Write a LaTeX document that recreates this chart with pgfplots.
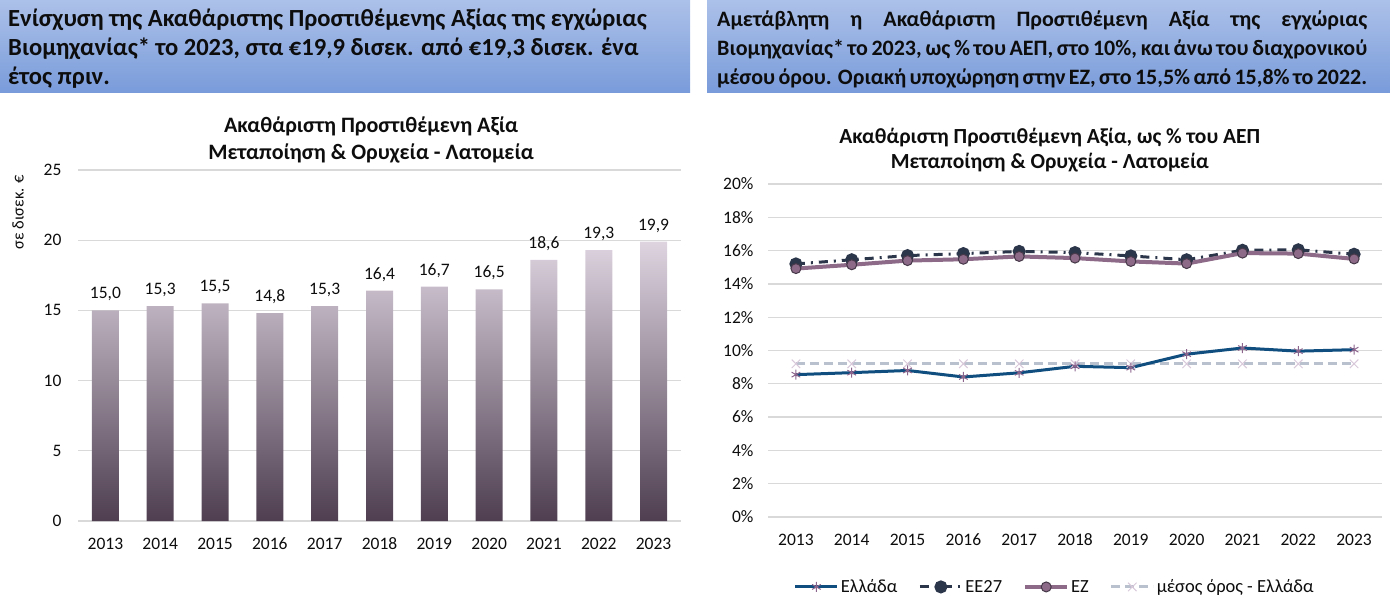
\documentclass[border=0pt]{standalone}
\usepackage{fontspec}
\setmainfont{Carlito}
\usepackage{pgfplots}
\pgfplotsset{compat=1.18}
\pgfplotsset{/pgf/number format/assume math mode=true}

\definecolor{hdrtop}{RGB}{172,193,233}
\definecolor{hdrbot}{RGB}{121,155,218}
\definecolor{gridc}{RGB}{217,217,217}
\definecolor{bartop}{RGB}{222,212,224}
\definecolor{barmid}{RGB}{150,118,146}
\definecolor{barbot}{RGB}{78,62,80}
\definecolor{txt}{RGB}{13,13,13}
\definecolor{ell}{RGB}{16,78,128}
\definecolor{ellmark}{RGB}{140,100,140}
\definecolor{ee}{RGB}{44,54,74}
\definecolor{ez}{RGB}{140,106,136}
\definecolor{ezedge}{RGB}{70,56,72}
\definecolor{avg}{RGB}{185,192,206}
\definecolor{avgmark}{RGB}{216,200,218}

\pgfplotstableread{
x val
0 15.0
1 15.3
2 15.5
3 14.8
4 15.3
5 16.4
6 16.7
7 16.5
8 18.6
9 19.3
10 19.9
}\gvatable

\pgfplotstableread{
x ell ee ez avg
0 8.55 15.20 14.92 9.2
1 8.67 15.45 15.15 9.2
2 8.80 15.70 15.40 9.2
3 8.41 15.82 15.48 9.2
4 8.66 15.95 15.65 9.2
5 9.05 15.88 15.55 9.2
6 8.97 15.68 15.35 9.2
7 9.78 15.45 15.22 9.2
8 10.15 16.02 15.85 9.2
9 9.96 16.05 15.82 9.2
10 10.05 15.78 15.50 9.2
}\pcttable

\begin{document}
\begin{tikzpicture}
\path[use as bounding box] (0pt,0pt) rectangle (1390pt,603pt);
% header boxes
\shade[top color=hdrtop, bottom color=hdrbot] (0pt,603pt) rectangle (690pt,510pt);
\shade[top color=hdrtop, bottom color=hdrbot] (707pt,603pt) rectangle (1390pt,510pt);
\begin{scope}[every node/.style={inner sep=0, anchor=base west, text=txt, font=\fontsize{24.6}{29}\selectfont\bfseries}]
\node at (8pt,576pt) {Ενίσχυση της Ακαθάριστης Προστιθέμενης Αξίας της εγχώριας};
\node at (8pt,547pt) {Βιομηχανίας* το 2023, στα €19,9 δισεκ. από €19,3 δισεκ. ένα};
\node at (8pt,518pt) {έτος πριν.};
\end{scope}
\begin{scope}[every node/.style={inner sep=0, anchor=base west, text=txt, font=\fontsize{22}{29}\selectfont\bfseries}]
\node at (717pt,576pt) {\makebox[650pt][s]{Αμετάβλητη η Ακαθάριστη Προστιθέμενη Αξία της εγχώριας}};
\node at (717pt,547pt) {\makebox[650pt][s]{Βιομηχανίας* το 2023, ως \% του ΑΕΠ, στο 10\%, και άνω του διαχρονικού}};
\node at (717pt,518pt) {\makebox[650pt][s]{μέσου όρου. Οριακή υποχώρηση στην ΕΖ, στο 15,5\% από 15,8\% το 2022.}};
\end{scope}

% left chart
\begin{axis}[at={(78pt,82pt)}, anchor=south west, scale only axis,
  width=603pt, height=351pt,
  xmin=-0.5, xmax=10.5, ymin=0, ymax=25,
  xtick={0,...,10}, xticklabels={2013,2014,2015,2016,2017,2018,2019,2020,2021,2022,2023},
  ytick={0,5,...,25},
  axis line style={draw=none}, major tick length=0pt,
  ymajorgrids, grid style={gridc, line width=1.3pt},
  tick label style={font=\fontsize{17.5}{20}\selectfont, text=txt},
  xticklabel style={anchor=base, yshift=-28.5pt}, yticklabel style={xshift=-13pt},
  ylabel={σε δισεκ. €}, ylabel style={at={(axis description cs:-0.0995,0.88)}, anchor=center, font=\fontsize{16.5}{18}\selectfont, text=txt},
  title={Ακαθάριστη Προστιθέμενη Αξία\\Μεταποίηση \& Ορυχεία - Λατομεία},
  title style={at={(axis description cs:0.486,1.068)}, anchor=center, align=center, font=\fontsize{22}{27}\selectfont\bfseries, text=txt},
  ybar, bar width=27pt,
  nodes near coords,
  every node near coord/.append style={font=\fontsize{17.5}{20}\selectfont, text=txt, inner sep=0pt, anchor=base, yshift=11.5pt,
     /pgf/number format/.cd, fixed, fixed zerofill, precision=1, use comma},
]
\addplot[draw=none, top color=bartop, middle color=barmid, bottom color=barbot] table[x=x, y=val] {\gvatable};
\end{axis}

% right chart
\begin{axis}[at={(768pt,86pt)}, anchor=south west, scale only axis,
  width=614pt, height=333pt,
  xmin=-0.5, xmax=10.5, ymin=0, ymax=20,
  xtick={0,...,10}, xticklabels={2013,2014,2015,2016,2017,2018,2019,2020,2021,2022,2023},
  ytick={0,2,...,20}, yticklabel={\pgfmathprintnumber{\tick}\%},
  axis line style={draw=none}, major tick length=0pt,
  ymajorgrids, grid style={gridc, line width=1.3pt},
  tick label style={font=\fontsize{17.5}{20}\selectfont, text=txt},
  xticklabel style={anchor=base, yshift=-28.5pt}, yticklabel style={xshift=-11pt},
  title={Ακαθάριστη Προστιθέμενη Αξία, ως \% του ΑΕΠ\\Μεταποίηση \& Ορυχεία - Λατομεία},
  title style={at={(axis description cs:0.459,1.0826)}, anchor=center, align=center, font=\fontsize{21.5}{25}\selectfont\bfseries, text=txt},
  legend columns=4,
  legend style={at={(axis description cs:0.467,-0.21)}, anchor=center, draw=none, fill=none,
    font=\fontsize{18.5}{21}\selectfont, text=txt,
    /tikz/every even column/.append style={column sep=19pt}},
  legend image code/.code={\draw[mark repeat=2,mark phase=2] plot coordinates {(0pt,0pt) (21pt,0pt) (42pt,0pt)};},
]
\addlegendimage{ell, line width=3pt, mark=asterisk, mark size=5pt, mark options={ellmark, line width=1pt, solid}}
\addlegendentry{Ελλάδα}
\addlegendimage{ee, line width=3pt, dash pattern=on 9pt off 6pt on 2pt off 6pt, mark=*, mark size=5pt, mark options={solid, fill=ee, draw=ee}}
\addlegendentry{ΕΕ27}
\addlegendimage{ez, line width=4pt, mark=*, mark size=5pt, mark options={solid, fill=ez, draw=ezedge, line width=1pt}}
\addlegendentry{ΕΖ}
\addlegendimage{avg, line width=3pt, dash pattern=on 9pt off 5pt, mark=x, mark size=6pt, mark options={solid, avgmark, line width=1pt}}
\addlegendentry{μέσος όρος - Ελλάδα}

\addplot[forget plot, avg, line width=3pt, dash pattern=on 9pt off 5pt, mark=x, mark size=6pt, mark options={solid, avgmark, line width=1pt}] table[x=x, y=avg] {\pcttable};
\addplot[forget plot, ell, line width=3pt, mark=asterisk, mark size=5pt, mark options={ellmark, line width=1pt, solid}] table[x=x, y=ell] {\pcttable};
\addplot[forget plot, ee, line width=3pt, dash pattern=on 9pt off 6pt on 2pt off 6pt, mark=*, mark size=5pt, mark options={solid, fill=ee, draw=ee}] table[x=x, y=ee] {\pcttable};
\addplot[forget plot, ez, line width=4pt, mark=*, mark size=5pt, mark options={solid, fill=ez, draw=ezedge, line width=1pt}] table[x=x, y=ez] {\pcttable};
\end{axis}
\end{tikzpicture}
\end{document}
